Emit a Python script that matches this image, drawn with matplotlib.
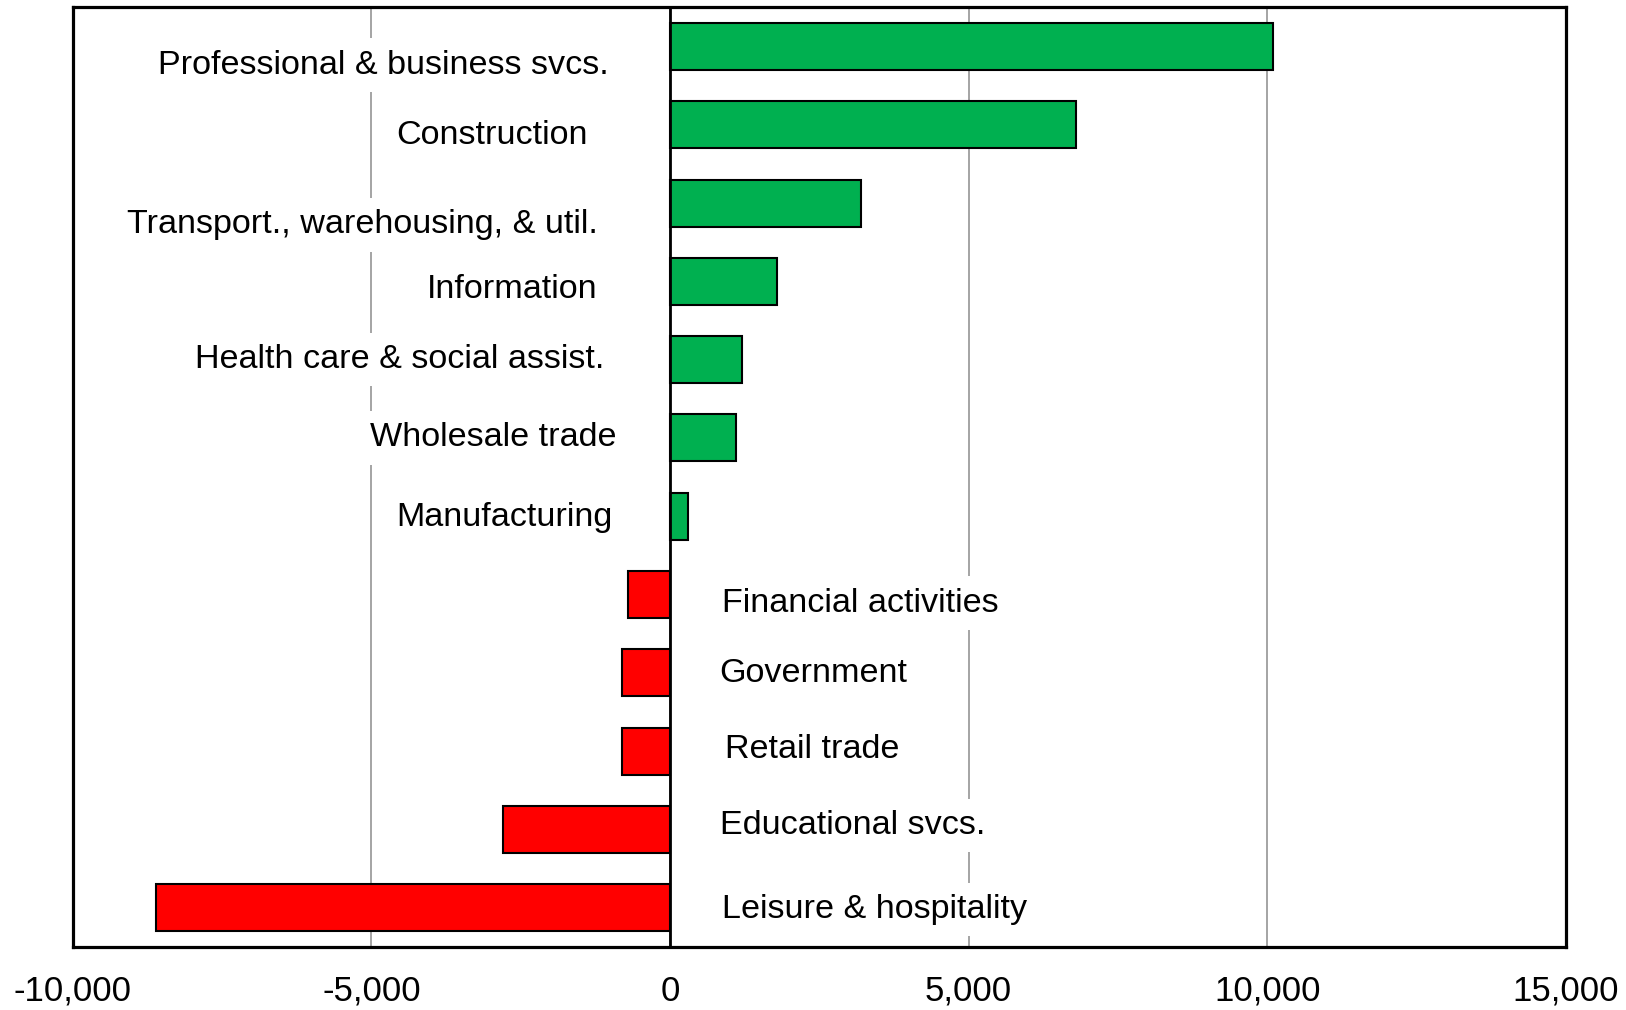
import matplotlib.pyplot as plt
from matplotlib.ticker import FuncFormatter

plt.rcParams['font.family'] = ['Liberation Sans', 'DejaVu Sans']

# Sectores y cambio en empleo (de arriba hacia abajo)
sectores = [
    'Professional & business svcs.', 'Construction',
    'Transport., warehousing, & util.', 'Information',
    'Health care & social assist.', 'Wholesale trade', 'Manufacturing',
    'Financial activities', 'Government', 'Retail trade',
    'Educational svcs.', 'Leisure & hospitality',
]
valores = [10100, 6800, 3200, 1800, 1200, 1100, 300,
           -700, -800, -800, -2800, -8600]

# Posicion de cada etiqueta (x en unidades de datos, desplazamiento vertical)
etiqueta_x = [-1020, -1370, -1210, -1210, -1090, -900, -970,
              870, 830, 920, 830, 870]
etiqueta_dy = [0.24, 0.14, 0.28, 0.11, 0.0, 0.0, 0.02,
               0.11, 0.01, -0.02, -0.05, 0.02]

fig = plt.figure(figsize=(16.26, 10.10), dpi=100)
ax = fig.add_axes([0.0447, 0.0624, 0.9183, 0.9304])

pos = list(range(len(sectores)))
colores = ['#00B050' if v > 0 else '#FF0000' for v in valores]
ax.barh(pos, valores, height=0.6, color=colores, edgecolor='black',
        linewidth=1.5, zorder=3)

for i, nombre in enumerate(sectores):
    ha = 'right' if valores[i] > 0 else 'left'
    ax.text(etiqueta_x[i], i + etiqueta_dy[i], nombre, ha=ha, va='center',
            fontsize=24.6, zorder=2,
            bbox=dict(facecolor='white', edgecolor='none', pad=8))

ax.set_xlim(-10000, 15000)
ax.set_ylim(len(sectores) - 0.5, -0.5)
ax.set_xticks(range(-10000, 15001, 5000))
ax.xaxis.set_major_formatter(FuncFormatter(lambda v, p: f'{int(v):,}'))
ax.set_yticks([])
ax.tick_params(axis='x', length=0, pad=20, labelsize=25)

ax.grid(axis='x', color='#8c8c8c', linewidth=1.1, zorder=1)
ax.set_axisbelow(True)
ax.axvline(0, color='black', linewidth=2, zorder=4)
for s in ax.spines.values():
    s.set_linewidth(2.3)
    s.set_zorder(5)

fig.savefig('out.png', dpi=100)
